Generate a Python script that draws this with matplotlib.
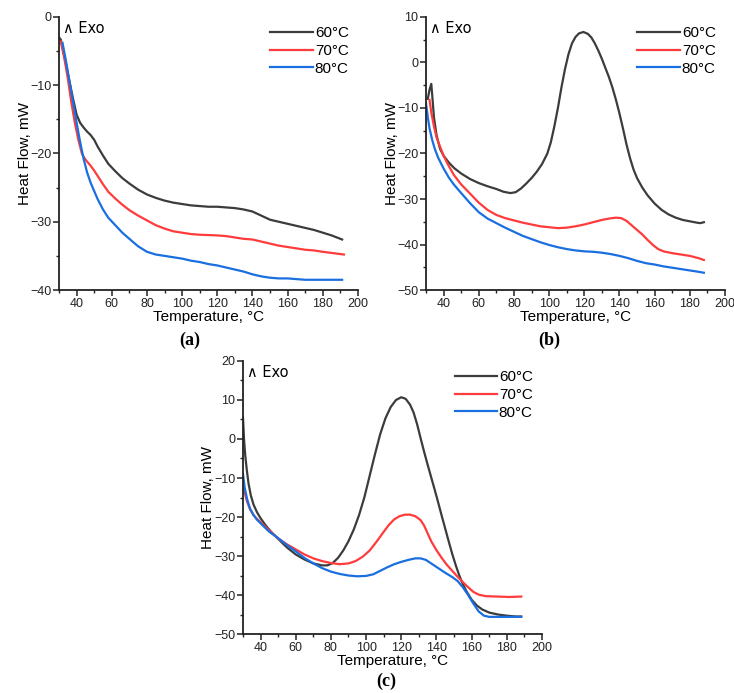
import matplotlib
matplotlib.use("Agg")
import matplotlib.pyplot as plt
from matplotlib.ticker import MultipleLocator

plt.rcParams['font.family'] = ['Liberation Sans', 'DejaVu Sans']

labels = ["60°C", "70°C", "80°C"]
colors = ["#3c3c3c", "#ff3b3b", "#1a6fe0"]

# Panel (a)
a60_x = [30, 31, 32, 34, 36, 38, 40, 42, 44, 46, 48, 50, 52, 55, 58, 62, 66, 70, 75, 80, 85, 90, 95, 100, 105, 110, 115, 120, 125, 130, 135, 140, 145, 150, 155, 160, 165, 170, 175, 180, 185, 191]
a60_y = [-3, -3.3, -4.5, -7, -9.5, -12, -14.3, -15.5, -16.2, -16.8, -17.3, -18, -19, -20.3, -21.5, -22.6, -23.6, -24.4, -25.3, -26, -26.5, -26.9, -27.2, -27.4, -27.6, -27.7, -27.8, -27.8, -27.9, -28.0, -28.2, -28.5, -29.1, -29.7, -30.0, -30.3, -30.6, -30.9, -31.2, -31.6, -32.0, -32.6]
a70_x = [31, 33, 35, 37, 39, 41, 43, 44.5, 46, 48, 50, 52, 55, 58, 62, 66, 70, 75, 80, 85, 90, 95, 100, 105, 110, 115, 120, 125, 130, 135, 140, 145, 150, 155, 160, 165, 170, 175, 180, 186, 192]
a70_y = [-3.6, -6, -9, -12.5, -15.5, -18, -20, -20.7, -21.2, -21.8, -22.5, -23.3, -24.5, -25.6, -26.6, -27.5, -28.3, -29.1, -29.8, -30.5, -31, -31.4, -31.6, -31.8, -31.9, -31.95, -32.0, -32.1, -32.3, -32.5, -32.6, -32.9, -33.2, -33.5, -33.7, -33.9, -34.1, -34.2, -34.4, -34.6, -34.8]
a80_x = [32, 34, 36, 38, 40, 42, 44, 46, 48, 50, 52, 55, 58, 62, 66, 70, 75, 80, 85, 90, 95, 100, 105, 110, 115, 120, 125, 130, 135, 140, 145, 150, 155, 160, 170, 180, 191]
a80_y = [-3.8, -6.5, -9.5, -12.5, -15.5, -18.3, -20.8, -22.8, -24.3, -25.5, -26.7, -28.2, -29.4, -30.5, -31.6, -32.5, -33.6, -34.4, -34.8, -35.0, -35.2, -35.4, -35.7, -35.9, -36.2, -36.4, -36.7, -37.0, -37.3, -37.7, -38.0, -38.2, -38.3, -38.3, -38.5, -38.5, -38.5]

# Panel (b)
b60_x = [31, 32, 33, 33.7, 34.5, 36, 38, 40, 43, 46, 50, 55, 60, 65, 70, 74, 78, 81, 84, 87, 90, 93, 96, 99, 101, 103, 105, 107, 109, 111, 113, 115, 117, 119.5, 122, 124, 126, 128, 130, 132, 134, 136, 138, 140, 142, 144, 146, 148, 150, 153, 156, 160, 164, 168, 172, 176, 180, 184, 186, 188]
b60_y = [-8, -6, -4.7, -8, -12, -16, -19, -20.5, -22, -23.2, -24.4, -25.6, -26.5, -27.2, -27.8, -28.4, -28.7, -28.5, -27.7, -26.6, -25.4, -24, -22.3, -20, -17.5, -14, -10, -5.5, -1.5, 1.8, 4.2, 5.6, 6.4, 6.7, 6.3, 5.5, 4.2, 2.6, 0.8, -1.2, -3.2, -5.5, -8.2, -11.2, -14.5, -18, -21, -23.5, -25.4, -27.5, -29.2, -31, -32.4, -33.4, -34.1, -34.6, -34.9, -35.2, -35.3, -35.1]
b70_x = [32, 33, 34.5, 36, 38, 40, 43, 46, 50, 55, 60, 65, 70, 75, 80, 85, 90, 95, 100, 105, 110, 115, 120, 125, 130, 134, 138, 141, 144, 147, 150, 153, 156, 159, 162, 165, 170, 175, 180, 185, 188]
b70_y = [-8.2, -11, -14, -16.5, -18.5, -20.5, -22.8, -24.8, -26.8, -28.8, -30.8, -32.4, -33.5, -34.2, -34.7, -35.2, -35.6, -36, -36.2, -36.4, -36.3, -36.0, -35.6, -35.1, -34.6, -34.3, -34.1, -34.2, -34.8, -35.8, -36.8, -37.8, -39, -40.1, -41, -41.5, -41.9, -42.2, -42.5, -43, -43.4]
b80_x = [30, 31, 32, 33.5, 35, 37, 40, 43, 46, 50, 55, 60, 65, 70, 75, 80, 85, 90, 95, 100, 105, 110, 115, 120, 125, 130, 135, 140, 145, 150, 155, 160, 165, 170, 175, 180, 185, 188]
b80_y = [-9, -12, -14.5, -17, -19, -21, -23.3, -25.3, -26.9, -28.7, -30.9, -32.9, -34.3, -35.3, -36.3, -37.2, -38.1, -38.8, -39.5, -40.1, -40.6, -41.0, -41.3, -41.5, -41.6, -41.8, -42.1, -42.5, -43.0, -43.6, -44.1, -44.4, -44.8, -45.1, -45.4, -45.7, -46.0, -46.2]

# Panel (c)
c60_x = [30, 30.6, 31.3, 32.2, 33.2, 34.5, 36, 38, 40, 43, 46, 50, 55, 60, 65, 70, 75, 78, 81, 84, 87, 90, 93, 96, 99, 102, 105, 108, 111, 114, 117, 120, 122.5, 125, 127, 129, 131, 133, 135, 137, 139, 141, 143, 145, 147, 149, 151, 153, 155, 157, 160, 163, 166, 170, 175, 180, 185, 188.2]
c60_y = [5.6, 0, -4.2, -8, -11.5, -14.5, -16.8, -18.8, -20.3, -22.2, -23.8, -25.6, -27.8, -29.6, -30.9, -31.9, -32.4, -32.4, -31.8, -30.5, -28.6, -26.2, -23.2, -19.5, -15, -9.5, -4, 1.2, 5.3, 8.2, 10, 10.7, 10.3, 8.8, 6.8, 3.8, 0.2, -3.3, -6.6, -9.8, -13, -16.3, -19.7, -23, -26.3, -29.5, -32.4, -35, -37.2, -39, -41.2, -42.7, -43.7, -44.5, -45, -45.3, -45.5, -45.5]
c70_x = [30, 31, 32.3, 34, 36, 38, 40, 45, 50, 55, 60, 65, 70, 75, 80, 85, 90, 94, 98, 102, 106, 110, 113, 116, 119, 122, 125, 128, 131, 133, 135, 137, 140, 143, 146, 149, 152, 155, 158, 161, 164, 168, 175, 181, 188.2]
c70_y = [-11, -13.8, -16, -18, -19.5, -20.5, -21.3, -23.5, -25.5, -27, -28.3, -29.6, -30.6, -31.3, -31.8, -32.1, -31.9, -31.3, -30.2, -28.6, -26.3, -23.8, -22, -20.6, -19.8, -19.4, -19.4, -19.8, -20.8, -22.2, -24.2, -26.2, -28.5, -30.5, -32.3, -33.8, -35.3, -36.7, -38, -39.2, -39.9, -40.3, -40.4, -40.5, -40.4]
c80_x = [30, 31, 32.3, 34, 36, 38, 40, 45, 50, 55, 60, 65, 70, 75, 80, 85, 90, 95, 100, 104, 108, 112, 116, 120, 124, 128, 131, 134, 137, 141, 145, 149, 152, 155, 158, 161, 164, 167, 170, 180, 188.2]
c80_y = [-8.9, -12.5, -15.3, -17.8, -19.5, -20.7, -21.6, -23.8, -25.4, -27.2, -28.8, -30.5, -31.9, -33.1, -34, -34.6, -35, -35.2, -35.1, -34.7, -33.8, -32.9, -32.1, -31.5, -31, -30.6, -30.6, -31, -31.9, -33.1, -34.3, -35.4, -36.4, -38, -40, -42.2, -44.2, -45.3, -45.6, -45.6, -45.6]

panels = [
    dict(rect=[0.0804, 0.5815, 0.4073, 0.394], ylim=(-40, 0),
         series=[(a60_x, a60_y), (a70_x, a70_y), (a80_x, a80_y)], cap="(a)", capxy=(0.259, 0.5094)),
    dict(rect=[0.5804, 0.5815, 0.4073, 0.394], ylim=(-50, 10),
         series=[(b60_x, b60_y), (b70_x, b70_y), (b80_x, b80_y)], cap="(b)", capxy=(0.748, 0.5094)),
    dict(rect=[0.331, 0.0851, 0.4074, 0.394], ylim=(-50, 20),
         series=[(c60_x, c60_y), (c70_x, c70_y), (c80_x, c80_y)], cap="(c)", capxy=(0.526, 0.0175)),
]

fig = plt.figure(figsize=(7.34, 6.93), dpi=100)
for p in panels:
    ax = fig.add_axes(p["rect"])
    for (x, y), lab, col in zip(p["series"], labels, colors):
        ax.plot(x, y, color=col, lw=1.6, label=lab, solid_joinstyle="round")
    ax.set_xlim(30, 200)
    ax.set_ylim(*p["ylim"])
    ax.xaxis.set_major_locator(MultipleLocator(20))
    ax.xaxis.set_minor_locator(MultipleLocator(10))
    ax.yaxis.set_major_locator(MultipleLocator(10))
    ax.yaxis.set_minor_locator(MultipleLocator(5))
    ax.set_xticks([40, 60, 80, 100, 120, 140, 160, 180, 200])
    for s in ["top", "right"]:
        ax.spines[s].set_visible(False)
    for s in ["left", "bottom"]:
        ax.spines[s].set_linewidth(1.3)
        ax.spines[s].set_color("#222222")
    ax.tick_params(which="major", direction="out", length=4, width=1.1, labelsize=9, pad=1.5, colors="#222222")
    ax.tick_params(which="minor", direction="out", length=2.5, width=1.0, colors="#222222")
    ax.set_xlabel("Temperature, °C", fontsize=11, labelpad=0)
    ax.set_ylabel("Heat Flow, mW", fontsize=11, labelpad=-1)
    ax.text(0.015, 0.985, "∧ Exo", transform=ax.transAxes, fontsize=10.5, va="top", ha="left",
            family=['DejaVu Sans'])
    ax.legend(loc="upper right", bbox_to_anchor=(1.0, 1.0), frameon=False, fontsize=11,
              handlelength=2.8, handletextpad=0.1, labelspacing=0.25, borderaxespad=0.2)
    fig.text(p["capxy"][0], p["capxy"][1], p["cap"], fontsize=13, fontweight="bold",
             family=["Liberation Serif", "DejaVu Serif"], ha="center", va="center")

fig.savefig("out.png", dpi=100)
